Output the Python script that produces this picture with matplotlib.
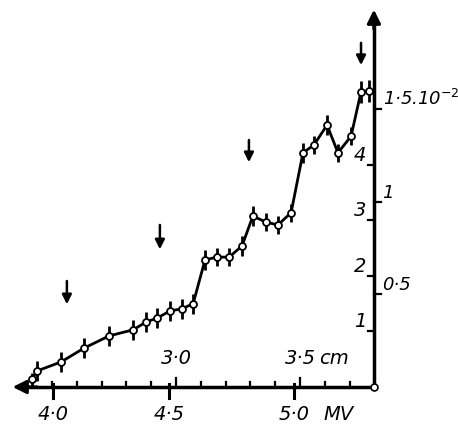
import numpy as np
import matplotlib.pyplot as plt

# range in cm (lower scale is the matching energy in MV)
rng = [2.419, 2.44, 2.536, 2.629, 2.730, 2.827, 2.879, 2.923, 2.976, 3.024, 3.069,
       3.117, 3.165, 3.214, 3.266, 3.31, 3.363, 3.411, 3.464,
       3.512, 3.556, 3.609, 3.653, 3.706, 3.746, 3.778]
counts = [0.14, 0.29, 0.45, 0.70, 0.92, 1.03, 1.17, 1.24, 1.37, 1.41, 1.50,
          2.29, 2.34, 2.34, 2.54, 3.08, 2.97, 2.92, 3.14,
          4.22, 4.36, 4.72, 4.22, 4.52, 5.32, 5.33]
err = [0.12, 0.18, 0.18, 0.18, 0.18, 0.18, 0.18, 0.18, 0.18, 0.18, 0.18,
       0.18, 0.16, 0.16, 0.18, 0.18, 0.16, 0.16, 0.16,
       0.18, 0.16, 0.18, 0.16, 0.16, 0.2, 0.2]

arrow_x = [2.56, 2.935, 3.294, 3.746]
arrow_top = [1.96, 2.97, 4.5, 6.25]
arrow_bot = [1.44, 2.43, 4.0, 5.75]

cm_major = [3.0, 3.5]
cm_major_lab = ['3·0', '3·5']
cm_minor = np.round(np.arange(2.5, 3.75, 0.1), 2)
mv_pos = [2.504, 2.972, 3.476]
mv_lab = ['4·0', '4·5', '5·0']
left_ticks = [1, 2, 3, 4]
right_vals = [0.5, 1.0, 1.5]
right_lab = ['0·5', '1', '1·5.10$^{-26}$']
scale = 0.3   # right scale = left scale * 0.3

x0 = 3.798  # origin of the axes (right-hand corner)

fig = plt.figure(figsize=(4.58, 4.25), dpi=100)
ax = fig.add_axes([0, 0, 1, 1])
ax.set_xlim(2.2903, 4.137)
ax.set_ylim(-0.685, 6.973)
ax.axis('off')

k = dict(color='black', lw=2.5, solid_capstyle='butt')
fnt = dict(fontsize=14, style='italic', color='black')

# axes with arrows
ax.plot([2.36, x0], [0, 0], **k)
ax.plot([x0, x0], [0, 6.6], **k)
ax.annotate('', xy=(2.33, 0), xytext=(2.45, 0),
            arrowprops=dict(arrowstyle='-|>', color='black', lw=2.3, mutation_scale=20))
ax.annotate('', xy=(x0, 6.85), xytext=(x0, 6.4),
            arrowprops=dict(arrowstyle='-|>', color='black', lw=2.3, mutation_scale=20))
ax.plot([x0], [0], 'o', ms=5, mfc='white', mec='black', mew=1.2, zorder=5)

# cm ticks (above), MV ticks (below)
for c in cm_minor:
    h = 0.16 if c in cm_major else 0.09
    ax.plot([c, c], [0, h], color='black', lw=1.6)
for c, lab in zip(cm_major, cm_major_lab):
    ax.text(c, 0.35, lab, ha='center', va='bottom', **fnt)
ax.text(3.575, 0.35, 'cm', ha='left', va='bottom', **fnt)
for c, lab in zip(mv_pos, mv_lab):
    ax.plot([c, c], [0.06, -0.2], color='black', lw=2.2)
    ax.text(c, -0.32, lab, ha='center', va='top', **fnt)
ax.text(3.655, -0.32, 'MV', ha='center', va='top', **fnt)

# vertical scales
for t in left_ticks:
    ax.plot([x0 - 0.025, x0], [t, t], color='black', lw=1.6)
    ax.text(x0 - 0.03, t, str(t), ha='right', va='bottom', **fnt)
for v, lab in zip(right_vals, right_lab):
    y = v / scale
    ax.plot([x0, x0 + 0.03], [y, y], color='black', lw=1.6)
    ax.text(x0 + 0.035, y, lab, ha='left', va='bottom', fontsize=13,
            style='italic', color='black')

# measured points
ax.plot(rng, counts, color='black', lw=2.0, zorder=3)
ax.errorbar(rng, counts, yerr=err, fmt='none', ecolor='black', elinewidth=2.0,
            capsize=0, zorder=3)
ax.plot(rng, counts, 'o', ms=5, mfc='white', mec='black', mew=1.3, zorder=4)

# arrows marking the groups
for xa, yt, yb in zip(arrow_x, arrow_top, arrow_bot):
    ax.annotate('', xy=(xa, yb), xytext=(xa, yt),
                arrowprops=dict(arrowstyle='-|>', color='black', lw=1.8,
                                mutation_scale=14))

fig.savefig('out.png', dpi=100)
